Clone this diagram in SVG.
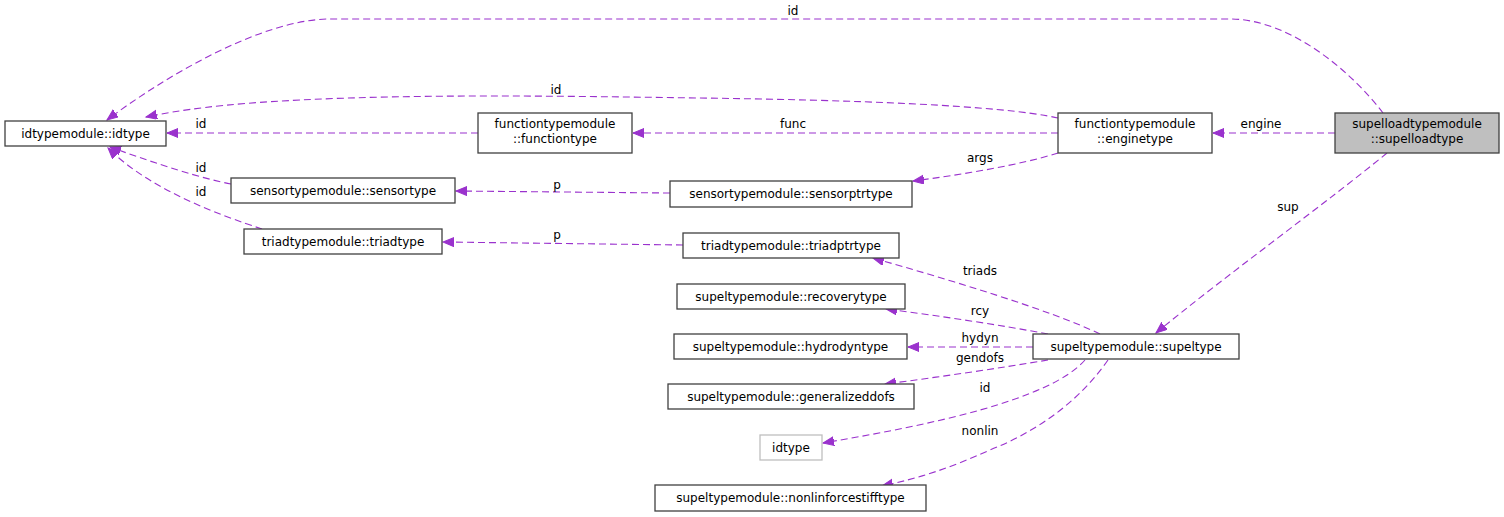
<svg xmlns="http://www.w3.org/2000/svg" width="1504" height="517" viewBox="0 0 1504 517">
<style>
text{font-family:"DejaVu Sans","Liberation Sans",sans-serif;font-size:12px;fill:#000}
.n rect{fill:#fff;stroke:#404040;stroke-width:1.3}
.n text{text-anchor:middle}
.e path{fill:none;stroke:#9a32cd;stroke-width:1.1;stroke-dasharray:7,4;marker-end:url(#ah)}
.e text{text-anchor:middle}
</style>
<defs>
<marker id="ah" markerUnits="userSpaceOnUse" markerWidth="13" markerHeight="10" refX="11" refY="4.5" orient="auto">
<path d="M0,0 L11,4.5 L0,9 z" fill="#9a32cd" stroke="#9a32cd" stroke-width="1"/>
</marker>
</defs>
<rect width="1504" height="517" fill="#fff"/>
<g id="connectors" class="e">
<path d="M1383,113 C1352,72 1290,19 1230,19 L330,19 C260,19 160,80 107,120"/>
<text x="793" y="15">id</text>
<path d="M1058,118 C1000,105 850,100 700,98 C560,96 420,94 300,100 C220,104 180,110 146,117"/>
<text x="556" y="94">id</text>
<path d="M1058,133 L633,133"/>
<text x="793" y="128">func</text>
<path d="M478,133 L167,133"/>
<text x="201" y="128">id</text>
<path d="M1335,133 L1213,133"/>
<text x="1261" y="128">engine</text>
<path d="M1058,153 C1020,165 960,175 913,181"/>
<text x="980" y="162">args</text>
<path d="M670,193 L456,191"/>
<text x="557" y="189">p</text>
<path d="M231,184 C200,178 160,165 110,147"/>
<text x="201" y="172">id</text>
<path d="M262,229 C220,215 150,190 108,148"/>
<text x="201" y="196">id</text>
<path d="M683,245 L443,242"/>
<text x="557" y="239">p</text>
<path d="M1387,153 C1330,200 1220,280 1156,333"/>
<text x="1288" y="211">sup</text>
<path d="M1100,334 C1050,310 950,280 873,258"/>
<text x="980" y="275">triads</text>
<path d="M1048,334 C1000,325 940,316 886,309"/>
<text x="980" y="315">rcy</text>
<path d="M1033,347 L908,347"/>
<text x="980" y="342">hydyn</text>
<path d="M1048,360 C1000,368 940,377 885,384"/>
<text x="980" y="362">gendofs</text>
<path d="M1085,360 C1050,400 930,425 823,443"/>
<text x="985" y="392">id</text>
<path d="M1108,360 C1080,400 1040,430 990,450 C950,468 920,478 882,486"/>
<text x="980" y="435">nonlin</text>
</g>
<g id="idtypemodule_idtype" class="n"><rect x="5" y="121" width="161" height="25"/><text x="85.5" y="137.5">idtypemodule::idtype</text></g>
<g id="functiontypemodule_functiontype" class="n"><rect x="478" y="113" width="154" height="40"/><text x="555" y="128">functiontypemodule</text><text x="555" y="143">::functiontype</text></g>
<g id="sensortypemodule_sensortype" class="n"><rect x="231" y="178" width="224" height="25"/><text x="343" y="194.5">sensortypemodule::sensortype</text></g>
<g id="triadtypemodule_triadtype" class="n"><rect x="244" y="229" width="198" height="25"/><text x="343" y="245.5">triadtypemodule::triadtype</text></g>
<g id="functiontypemodule_enginetype" class="n"><rect x="1058" y="113" width="154" height="40"/><text x="1135" y="128">functiontypemodule</text><text x="1135" y="143">::enginetype</text></g>
<g id="supelloadtypemodule_supelloadtype" class="n"><rect x="1335" y="113" width="164" height="40" style="fill:#bfbfbf"/><text x="1417" y="128">supelloadtypemodule</text><text x="1417" y="143">::supelloadtype</text></g>
<g id="sensortypemodule_sensorptrtype" class="n"><rect x="670" y="181" width="242" height="26"/><text x="791" y="198">sensortypemodule::sensorptrtype</text></g>
<g id="triadtypemodule_triadptrtype" class="n"><rect x="683" y="233" width="216" height="25"/><text x="791" y="249.5">triadtypemodule::triadptrtype</text></g>
<g id="supeltypemodule_recoverytype" class="n"><rect x="677" y="284" width="228" height="25"/><text x="791" y="300.5">supeltypemodule::recoverytype</text></g>
<g id="supeltypemodule_hydrodyntype" class="n"><rect x="674" y="334" width="233" height="25"/><text x="790.5" y="350.5">supeltypemodule::hydrodyntype</text></g>
<g id="supeltypemodule_supeltype" class="n"><rect x="1033" y="334" width="206" height="25"/><text x="1136" y="350.5">supeltypemodule::supeltype</text></g>
<g id="supeltypemodule_generalizeddofs" class="n"><rect x="668" y="384" width="246" height="25"/><text x="791" y="400.5">supeltypemodule::generalizeddofs</text></g>
<g id="idtype" class="n"><rect x="760" y="435" width="62" height="25" style="stroke:#bfbfbf"/><text x="791" y="451.5">idtype</text></g>
<g id="supeltypemodule_nonlinforcestifftype" class="n"><rect x="655" y="485" width="271" height="26"/><text x="790.5" y="502">supeltypemodule::nonlinforcestifftype</text></g>
</svg>
